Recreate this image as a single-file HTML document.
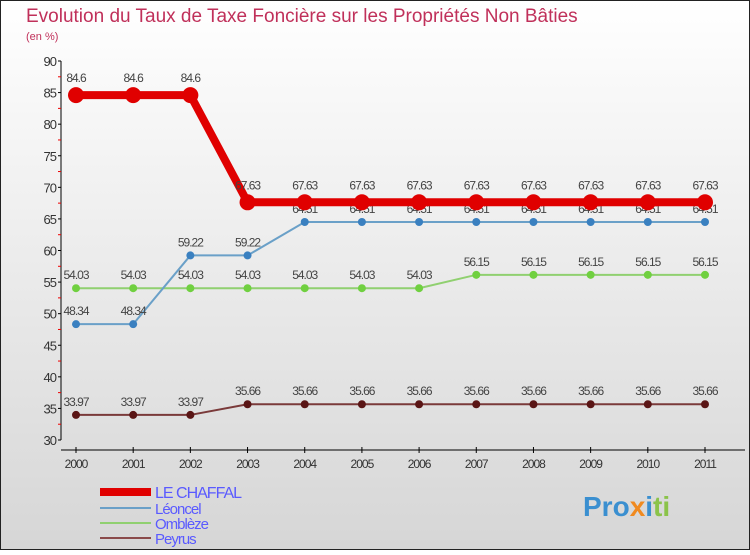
<!DOCTYPE html>
<html><head><meta charset="utf-8"><style>
body{margin:0;width:750px;height:550px;overflow:hidden}
svg{font-family:"Liberation Sans",sans-serif}
</style></head><body>
<svg width="750" height="550">
<defs><linearGradient id="bg" x1="0" y1="0" x2="0" y2="1"><stop offset="0" stop-color="#ffffff"/><stop offset="1" stop-color="#d6d6d6"/></linearGradient></defs>
<rect x="0.5" y="0.5" width="749" height="549" fill="url(#bg)" stroke="#222"/>
<text x="26" y="22" font-size="19" fill="#c0305a">Evolution du Taux de Taxe Foncière sur les Propriétés Non Bâties</text>
<text x="26" y="40" font-size="11" fill="#c0305a">(en %)</text>
<g id="axes"></g><g id="series"></g><g id="legend"></g>
<text x="583" y="516" font-size="28" font-weight="bold" fill="#3a8fd0">Pro<tspan fill="#f08a20">x</tspan><tspan fill="#3a8fd0">i</tspan><tspan fill="#8bc34a">ti</tspan></text>
</svg>
<script>
const years=["2000","2001","2002","2003","2004","2005","2006","2007","2008","2009","2010","2011"];
const yTicks=[30,35,40,45,50,55,60,65,70,75,80,85,90];
const chaffal=[84.6,84.6,84.6,67.63,67.63,67.63,67.63,67.63,67.63,67.63,67.63,67.63];
const leoncel=[48.34,48.34,59.22,59.22,64.51,64.51,64.51,64.51,64.51,64.51,64.51,64.51];
const omblez=[54.03,54.03,54.03,54.03,54.03,54.03,54.03,56.15,56.15,56.15,56.15,56.15];
const peyrus=[33.97,33.97,33.97,35.66,35.66,35.66,35.66,35.66,35.66,35.66,35.66,35.66];
const names=["LE CHAFFAL","Léoncel","Omblèze","Peyrus"];
const NS="http://www.w3.org/2000/svg";
const X=i=>76+i*(705-76)/11, Y=v=>440-(v-30)*(440-61)/60;
function mk(t,a,p,txt){const e=document.createElementNS(NS,t);for(const k in a)e.setAttribute(k,a[k]);if(txt!=null)e.textContent=txt;p.appendChild(e);return e;}
const ax=document.getElementById('axes');
let e=mk('line',{x1:61,y1:61,x2:61,y2:440,stroke:'#000'},ax);

e=mk('line',{x1:61,y1:450,x2:745,y2:450,stroke:'#000'},ax);

yTicks.forEach(v=>{mk('line',{x1:58,y1:Y(v),x2:61,y2:Y(v),stroke:'#000'},ax);
 if(v<90)mk('line',{x1:58,y1:Y(v+2.5),x2:61,y2:Y(v+2.5),stroke:'#e00'},ax);
 e=mk('text',{x:56,y:Y(v)+5,'font-size':13,'text-anchor':'end',fill:'#333','letter-spacing':'-1'},ax,String(v));
 });
years.forEach((y,i)=>{mk('line',{x1:X(i),y1:447,x2:X(i),y2:453,stroke:'#000'},ax);
 e=mk('text',{x:X(i),y:468,'font-size':12,'text-anchor':'middle',fill:'#333','letter-spacing':'-1'},ax,y);
 });
const sg=document.getElementById('series');
const defs=[[peyrus,'#7a3a3a','#5a1515',2,4,'peyrus'],[omblez,'#90d070','#70d040',2,4,'ombleze'],[leoncel,'#6aa0c8','#3a80c0',2,4,'leoncel'],[chaffal,'#e00000','#e00000',8,8,'le-chaffal']];
defs.forEach(([d,c,dc,w,r,n])=>{
 const g=mk('g',{},sg);
 mk('polyline',{points:d.map((v,i)=>X(i)+','+Y(v)).join(' '),fill:'none',stroke:c,'stroke-width':w},g);
 d.forEach((v,i)=>{e=mk('circle',{cx:X(i),cy:Y(v),r:r,fill:dc},g);
  
  e=mk('text',{x:X(i),y:Y(v)-(r+5),'font-size':12,'text-anchor':'middle',fill:'#444','letter-spacing':'-1'},g,String(v));
  });
});
const lg=document.getElementById('legend');
const lc=['#e00000','#6aa0c8','#90d070','#8a4a4a'],lw=[8,2,2,2],ly=[492,508,523,538];
names.forEach((n,i)=>{const g=mk('g',{},lg);
 mk('line',{x1:100,y1:ly[i],x2:151,y2:ly[i],stroke:lc[i],'stroke-width':lw[i]},g);
 mk('text',{x:155,y:ly[i]+6,'font-size':i?15:16,fill:'#5a5aff','letter-spacing':'-1'},g,n);});
</script>
</body></html>
